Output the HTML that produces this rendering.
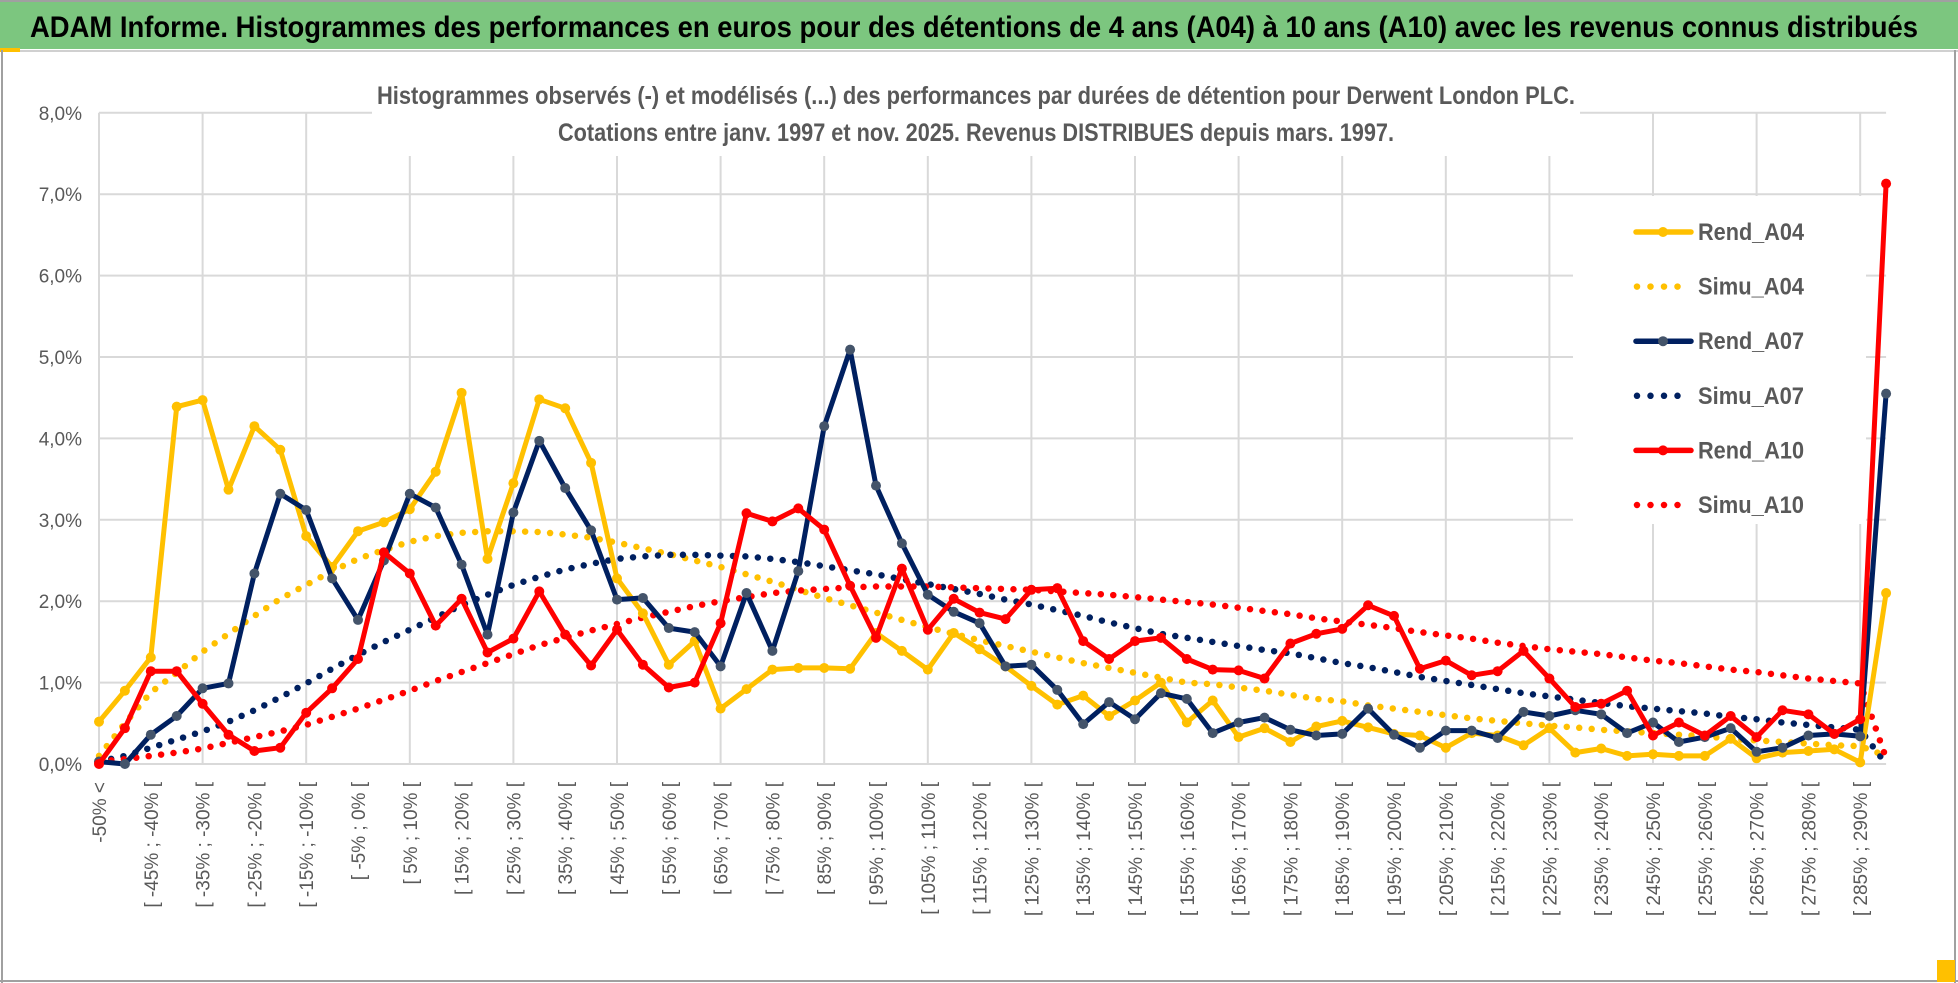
<!DOCTYPE html>
<html><head><meta charset="utf-8"><style>
html,body{margin:0;padding:0;background:#fff;}
svg{display:block;font-family:"Liberation Sans",sans-serif;}
</style></head><body>
<svg id="chart" width="1958" height="983" viewBox="0 0 1958 983" xmlns="http://www.w3.org/2000/svg">
<rect x="0" y="0" width="1958" height="983" fill="#fff"/>
<rect x="0" y="0" width="1958" height="49" fill="#7cc67f"/>
<line x1="0" y1="1" x2="1958" y2="1" stroke="#a0a0a0" stroke-width="2"/>
<line x1="0" y1="51" x2="1958" y2="51" stroke="#d0d0d0" stroke-width="2"/>
<rect x="0" y="48" width="20" height="4" fill="#ffc000"/>
<line x1="2" y1="50" x2="2" y2="983" stroke="#a0a0a0" stroke-width="2"/>
<line x1="1955" y1="50" x2="1955" y2="983" stroke="#a0a0a0" stroke-width="2"/>
<line x1="0" y1="981" x2="1958" y2="981" stroke="#a0a0a0" stroke-width="2"/>
<rect x="1937" y="960" width="18" height="22" fill="#ffc000"/>
<text x="30" y="37" font-size="30" font-weight="bold" fill="#000" textLength="1888" lengthAdjust="spacingAndGlyphs">ADAM Informe. Histogrammes des performances en euros pour des détentions de 4 ans (A04) à 10 ans (A10) avec les revenus connus distribués</text>
<g id="grid"></g>
<g id="yticks"></g>
<g id="xticks"></g>
<rect x="372" y="78" width="1208" height="78" fill="#fff"/>
<text x="377" y="104" font-size="25" font-weight="bold" fill="#595959" textLength="1198" lengthAdjust="spacingAndGlyphs">Histogrammes observés (-) et modélisés (...) des performances par durées de détention pour Derwent London PLC.</text>
<text x="558" y="141" font-size="25" font-weight="bold" fill="#595959" textLength="836" lengthAdjust="spacingAndGlyphs">Cotations entre janv. 1997 et nov. 2025. Revenus DISTRIBUES depuis mars. 1997.</text>
<rect x="1573" y="196" width="293" height="328" fill="#fff"/>
<g id="series"></g>
<g id="legend"></g>
</svg>
<script>
const categories = ["-50% <"];
for (let i = 1; i < 70; i++) categories.push("[ " + (-55 + 5*i) + "% ; " + (-50 + 5*i) + "% [");
const yTicks = [0,1,2,3,4,5,6,7,8];
const yTickLabels = ["0,0%","1,0%","2,0%","3,0%","4,0%","5,0%","6,0%","7,0%","8,0%"];
const rendA04 = [0.52,0.90,1.31,4.39,4.47,3.37,4.15,3.86,2.80,2.42,2.86,2.97,3.13,3.59,4.56,2.52,3.45,4.48,4.37,3.70,2.28,1.85,1.22,1.51,0.68,0.92,1.16,1.18,1.18,1.17,1.61,1.39,1.16,1.61,1.41,1.20,0.96,0.73,0.84,0.59,0.78,1.00,0.51,0.78,0.33,0.44,0.27,0.46,0.53,0.45,0.37,0.35,0.20,0.38,0.35,0.23,0.44,0.14,0.19,0.10,0.12,0.10,0.10,0.31,0.07,0.14,0.16,0.18,0.02,2.10];
const simuA04 = [0.10,0.50,0.88,1.12,1.38,1.60,1.82,2.03,2.20,2.37,2.52,2.63,2.73,2.80,2.84,2.86,2.86,2.85,2.82,2.78,2.72,2.65,2.58,2.50,2.42,2.33,2.24,2.14,2.04,1.95,1.86,1.77,1.68,1.60,1.52,1.45,1.38,1.31,1.24,1.18,1.12,1.06,1.00,0.98,0.94,0.90,0.85,0.80,0.77,0.72,0.68,0.64,0.60,0.56,0.53,0.50,0.47,0.45,0.42,0.40,0.38,0.36,0.34,0.31,0.29,0.27,0.25,0.23,0.22,0.10];
const rendA07 = [0.03,0.00,0.36,0.59,0.93,0.99,2.34,3.32,3.12,2.28,1.77,2.50,3.32,3.15,2.45,1.59,3.09,3.97,3.39,2.87,2.02,2.04,1.67,1.62,1.20,2.10,1.39,2.37,4.15,5.09,3.42,2.71,2.08,1.87,1.73,1.20,1.22,0.91,0.49,0.76,0.55,0.87,0.80,0.38,0.51,0.57,0.42,0.35,0.37,0.68,0.36,0.20,0.41,0.41,0.32,0.64,0.59,0.66,0.61,0.38,0.51,0.27,0.33,0.44,0.15,0.20,0.35,0.37,0.34,4.55];
const simuA07 = [0.03,0.10,0.20,0.30,0.40,0.52,0.66,0.82,0.99,1.17,1.34,1.50,1.65,1.80,1.95,2.08,2.20,2.30,2.39,2.46,2.52,2.55,2.57,2.57,2.56,2.55,2.52,2.48,2.43,2.38,2.33,2.27,2.21,2.15,2.09,2.02,1.96,1.89,1.82,1.74,1.67,1.60,1.55,1.50,1.45,1.40,1.36,1.30,1.24,1.19,1.13,1.07,1.02,0.97,0.92,0.87,0.83,0.79,0.75,0.71,0.68,0.65,0.62,0.58,0.55,0.51,0.48,0.45,0.42,0.00];
const rendA10 = [0.00,0.44,1.14,1.14,0.74,0.36,0.16,0.20,0.63,0.93,1.29,2.60,2.34,1.70,2.03,1.37,1.54,2.12,1.59,1.21,1.65,1.22,0.94,1.00,1.73,3.08,2.98,3.14,2.88,2.19,1.55,2.40,1.65,2.03,1.86,1.78,2.14,2.16,1.51,1.29,1.51,1.55,1.29,1.16,1.15,1.05,1.48,1.60,1.66,1.95,1.82,1.17,1.27,1.09,1.14,1.39,1.05,0.70,0.74,0.90,0.35,0.51,0.35,0.59,0.33,0.66,0.61,0.37,0.55,7.13];
const simuA10 = [0.03,0.06,0.10,0.14,0.19,0.26,0.33,0.40,0.48,0.58,0.68,0.79,0.90,1.02,1.13,1.24,1.35,1.46,1.55,1.64,1.72,1.80,1.87,1.94,2.00,2.05,2.10,2.13,2.15,2.17,2.18,2.18,2.18,2.17,2.16,2.15,2.14,2.12,2.10,2.08,2.05,2.02,1.99,1.96,1.92,1.88,1.84,1.79,1.75,1.71,1.67,1.62,1.58,1.54,1.49,1.45,1.41,1.38,1.35,1.31,1.27,1.24,1.20,1.16,1.13,1.09,1.05,1.02,0.99,0.07];
const legendNames = ["Rend_A04","Simu_A04","Rend_A07","Simu_A07","Rend_A10","Simu_A10"];

const NS = "http://www.w3.org/2000/svg";
const X0 = 99, DX = 25.9, Y0 = 764, DY = 81.4;
function xs(i){ return X0 + i*DX; }
function ys(v){ return Y0 - v*DY; }
function mk(tag, attrs, parent){
  const e = document.createElementNS(NS, tag);
  for (const k in attrs) e.setAttribute(k, attrs[k]);
  parent.appendChild(e); return e;
}
const grid = document.getElementById("grid");
const xEnd = xs(categories.length - 1);
yTicks.forEach(function(t){
  const l = mk("line", {x1: X0, x2: xEnd, y1: ys(t), y2: ys(t), stroke: "#d9d9d9", "stroke-width": 2}, grid);
  
  
});
for (let i = 0; i < categories.length; i += 4) {
  const l = mk("line", {x1: xs(i), x2: xs(i), y1: ys(8), y2: ys(0), stroke: "#d9d9d9", "stroke-width": 2}, grid);
  
  
}
const yt = document.getElementById("yticks");
yTicks.forEach(function(t, k){
  const tx = mk("text", {x: 82, y: ys(t) + 7, "text-anchor": "end", "font-size": 19, fill: "#595959"}, yt);
  tx.textContent = yTickLabels[k];
  
  
});
const xt = document.getElementById("xticks");
for (let i = 0; i < categories.length; i += 2) {
  const x = xs(i) + 7, y = 782;
  const tx = mk("text", {x: x, y: y, "text-anchor": "end", "font-size": 19, fill: "#595959", transform: "rotate(-90 " + x + " " + y + ")"}, xt);
  tx.textContent = categories[i];
  
  
}
const seriesG = document.getElementById("series");
function pts(arr){ return arr.map(function(v,i){ return xs(i).toFixed(1) + "," + ys(v).toFixed(1); }).join(" "); }
function dotted(arr, color, name){
  const p = mk("polyline", {points: pts(arr), fill: "none", stroke: color, "stroke-width": 6.5, "stroke-linecap": "round", "stroke-dasharray": "0 12.5"}, seriesG);
  
  
}
function solid(arr, color, mcolor, name){
  const g = mk("g", {}, seriesG);
  
  
  mk("polyline", {points: pts(arr), fill: "none", stroke: color, "stroke-width": 5, "stroke-linejoin": "round"}, g);
  arr.forEach(function(v, i){
    const c = mk("circle", {cx: xs(i), cy: ys(v), r: 5, fill: mcolor}, g);
    
    
  });
}
dotted(simuA04, "#ffc000", "simu-a04-line");
dotted(simuA07, "#002060", "simu-a07-line");
dotted(simuA10, "#ff0000", "simu-a10-line");
solid(rendA04, "#ffc000", "#ffc000", "rend-a04-line");
solid(rendA07, "#002060", "#44546a", "rend-a07-line");
solid(rendA10, "#ff0000", "#ff0000", "rend-a10-line");

const lg = document.getElementById("legend");
const lColors = ["#ffc000","#ffc000","#002060","#002060","#ff0000","#ff0000"];
const lMark = ["#ffc000","#ffc000","#44546a","#44546a","#ff0000","#ff0000"];
legendNames.forEach(function(n, k){
  const y = 240 + k*54.6;
  const g = mk("g", {}, lg);
  
  
  if (k % 2 === 0) {
    mk("line", {x1: 1636, x2: 1691, y1: y - 8, y2: y - 8, stroke: lColors[k], "stroke-width": 5.5, "stroke-linecap": "round"}, g);
    mk("circle", {cx: 1663, cy: y - 8, r: 5, fill: lMark[k]}, g);
  } else {
    mk("line", {x1: 1637, x2: 1682, y1: y - 8, y2: y - 8, stroke: lColors[k], "stroke-width": 6.5, "stroke-linecap": "round", "stroke-dasharray": "0 13.5"}, g);
  }
  const t = mk("text", {x: 1698, y: y, "font-size": 24, "font-weight": "bold", fill: "#595959", textLength: 106, lengthAdjust: "spacingAndGlyphs"}, g);
  t.textContent = n;
});
</script>
</body></html>
